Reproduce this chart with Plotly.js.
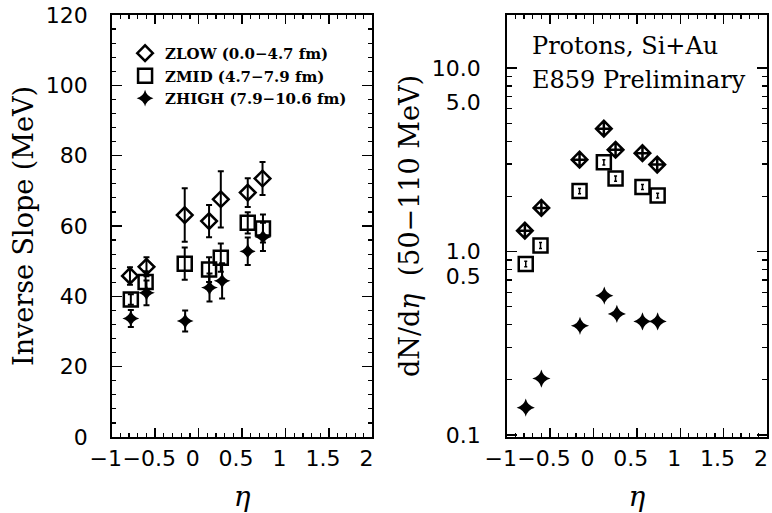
<!DOCTYPE html>
<html>
<head>
<meta charset="utf-8">
<script src="https://cdn.plot.ly/plotly-3.0.1.min.js"></script>
<style>html,body{margin:0;padding:0;background:#fff;}#chart{width:772px;height:513px;}</style>
</head>
<body>
<div id="chart"></div>
<script>
// ---------- Data ----------
// Left panel: inverse slope (MeV) vs eta
const etaLow  = [-0.79, -0.60, -0.16, 0.12, 0.255, 0.565, 0.735];
const slopeLow = [45.8, 48.4, 63.1, 61.4, 67.6, 69.5, 73.5];
const slopeLowErr = [2.5, 2.7, 7.6, 4.6, 8.0, 4.1, 4.7];

const etaMid  = [-0.78, -0.61, -0.16, 0.12, 0.255, 0.565, 0.74];
const slopeMid = [39.1, 44.1, 49.3, 47.6, 51.0, 60.9, 59.3];
const slopeMidErr = [1.5, 3.0, 4.6, 3.5, 4.0, 3.0, 4.0];

const etaHigh = [-0.78, -0.60, -0.155, 0.125, 0.27, 0.565, 0.74];
const slopeHigh = [33.7, 41.0, 33.0, 42.5, 44.4, 52.8, 56.9];
const slopeHighErr = [2.4, 3.5, 3.0, 4.0, 5.0, 3.9, 4.0];

// Right panel: dN/deta (50-110 MeV) vs eta
const dndLow  = [1.30, 1.73, 3.17, 4.68, 3.59, 3.44, 2.98];
const dndMid  = [0.857, 1.08, 2.14, 3.07, 2.50, 2.25, 2.02];
const dndMidErr = [0.03, 0.04, 0.07, 0.10, 0.08, 0.07, 0.06];
const dndHigh = [0.141, 0.203, 0.394, 0.575, 0.457, 0.416, 0.416];

const seriesNames = ['ZLOW (0.0\u22124.7 fm)', 'ZMID (4.7\u22127.9 fm)', 'ZHIGH (7.9\u221210.6 fm)'];

// Tick labels
const xTickVals = [-1, -0.5, 0, 0.5, 1, 1.5, 2];
const xTickText = ['\u22121', '\u22120.5', '0', '0.5', '1', '1.5', '2'];
const yLeftTickVals = [0, 20, 40, 60, 80, 100, 120];
const yRightLabelVals = [0.1, 0.73, 1.0, 6.5, 10];
const yRightLabelText = ['0.1', '0.5', '1.0', '5.0', '10.0'];
const yRightMajor = [0.1, 1, 10];
const yRightMinor = [0.2,0.3,0.4,0.5,0.6,0.7,0.8,0.9,2,3,4,5,6,7,8,9];

// ---------- Styles ----------
const BLACK = '#000';
const errStyle = {type: 'data', visible: true, color: BLACK, thickness: 2, width: 3};

const traces = [
  {x: etaLow, y: slopeLow, xaxis: 'x', yaxis: 'y', mode: 'markers', name: seriesNames[0],
   marker: {symbol: 'diamond-open', size: 12, color: BLACK, line: {width: 2.5, color: BLACK}},
   error_y: Object.assign({array: slopeLowErr}, errStyle)},
  {x: etaMid, y: slopeMid, xaxis: 'x', yaxis: 'y', mode: 'markers', name: seriesNames[1],
   marker: {symbol: 'square-open', size: 14, color: BLACK, line: {width: 2.5, color: BLACK}},
   error_y: Object.assign({array: slopeMidErr}, errStyle)},
  {x: etaHigh, y: slopeHigh, xaxis: 'x', yaxis: 'y', mode: 'markers', name: seriesNames[2],
   marker: {symbol: 'star-diamond', size: 12, color: BLACK, line: {width: 0, color: BLACK}},
   error_y: Object.assign({array: slopeHighErr}, errStyle)},

  {x: etaLow, y: dndLow, xaxis: 'x2', yaxis: 'y2', mode: 'markers', showlegend: false, name: seriesNames[0],
   marker: {symbol: 'diamond-cross-open', size: 12, color: BLACK, line: {width: 2.5, color: BLACK}}},
  {x: etaMid, y: dndMid, xaxis: 'x2', yaxis: 'y2', mode: 'markers', showlegend: false, name: seriesNames[1],
   marker: {symbol: 'square-open', size: 14, color: BLACK, line: {width: 2.5, color: BLACK}},
   error_y: {type: 'data', array: dndMidErr, color: BLACK, thickness: 1.5, width: 1.5}},
  {x: etaHigh, y: dndHigh, xaxis: 'x2', yaxis: 'y2', mode: 'markers', showlegend: false, name: seriesNames[2],
   marker: {symbol: 'star-diamond', size: 13, color: BLACK, line: {width: 0, color: BLACK}}},
  // empty trace to anchor the overlay axis carrying the log tick marks
  {x: [], y: [], xaxis: 'x2', yaxis: 'y3', mode: 'markers', showlegend: false, hoverinfo: 'skip'}
];

const tickFont = {family: 'DejaVu Sans', size: 22, color: BLACK};
const titleFont = {family: 'DejaVu Serif', size: 27, color: BLACK};

function xAxis(domain, anchor) {
  return {
    domain: domain, anchor: anchor, range: [-1, 2], autorange: false,
    showline: true, linecolor: BLACK, linewidth: 1.6, mirror: 'ticks',
    showgrid: false, zeroline: false,
    tickmode: 'array', tickvals: xTickVals, ticktext: xTickText, tickangle: 0,
    ticks: 'inside', ticklen: 9, tickwidth: 1.4, tickcolor: BLACK,
    minor: {dtick: 0.1, tick0: 0, ticks: 'inside', ticklen: 4, tickwidth: 1.2, tickcolor: BLACK, showgrid: false},
    tickfont: tickFont, ticklabelstandoff: 1, ticklabelshift: -6,
    title: {text: '<i>\u03b7</i>', font: {family: 'DejaVu Serif', size: 28, color: BLACK}, standoff: 16},
    automargin: false
  };
}

const layout = {
  width: 772, height: 513,
  margin: {l: 0, r: 0, t: 0, b: 0},
  paper_bgcolor: '#fff', plot_bgcolor: '#fff',
  showlegend: true,
  legend: {
    x: 0.162, y: 0.928, xanchor: 'left', yanchor: 'top',
    bgcolor: 'rgba(0,0,0,0)', borderwidth: 0,
    font: {family: 'DejaVu Serif', size: 15, color: BLACK, weight: 'bold'},
    tracegroupgap: 4, itemwidth: 30
  },
  xaxis: xAxis([0.1447, 0.4825], 'y'),
  xaxis2: xAxis([0.6563, 0.9935], 'y2'),
  yaxis: {
    domain: [0.1481, 0.9708], anchor: 'x', range: [0, 120], autorange: false,
    showline: true, linecolor: BLACK, linewidth: 1.6, mirror: 'ticks',
    showgrid: false, zeroline: false,
    tickmode: 'array', tickvals: yLeftTickVals,
    ticks: 'inside', ticklen: 10, tickwidth: 1.4, tickcolor: BLACK,
    minor: {dtick: 4, tick0: 0, ticks: 'inside', ticklen: 4, tickwidth: 1.2, tickcolor: BLACK, showgrid: false},
    tickfont: tickFont, ticklabelstandoff: 18,
    title: {text: 'Inverse Slope (MeV)', font: titleFont, standoff: 4},
    automargin: false
  },
  yaxis2: {
    domain: [0.1481, 0.9708], anchor: 'x2', type: 'log', range: [-1.011, 1.29], autorange: false,
    showline: true, linecolor: BLACK, linewidth: 1.6, mirror: true,
    showgrid: false, zeroline: false,
    tickmode: 'array', tickvals: yRightLabelVals, ticktext: yRightLabelText,
    ticks: '', tickfont: tickFont, ticklabelstandoff: 20,
    title: {text: 'dN/d<i>\u03b7</i>  (50\u2212110 MeV)', font: titleFont, standoff: 4},
    automargin: false
  },
  yaxis3: {
    overlaying: 'y2', anchor: 'x2', side: 'left', type: 'log', range: [-1.011, 1.29], autorange: false,
    showline: false, mirror: 'ticks', showgrid: false, zeroline: false,
    tickmode: 'array', tickvals: yRightMajor, showticklabels: false,
    ticks: 'inside', ticklen: 10, tickwidth: 1.4, tickcolor: BLACK,
    minor: {tickmode: 'array', tickvals: yRightMinor, ticks: 'inside', ticklen: 5, tickwidth: 1.2, tickcolor: BLACK, showgrid: false},
    automargin: false
  },
  annotations: [
    {text: 'Protons, Si+Au', xref: 'paper', yref: 'paper', x: 0.687, y: 0.9103, xanchor: 'left', yanchor: 'middle',
     showarrow: false, font: {family: 'DejaVu Serif', size: 24, color: BLACK}},
    {text: 'E859 Preliminary', xref: 'paper', yref: 'paper', x: 0.687, y: 0.8441, xanchor: 'left', yanchor: 'middle',
     showarrow: false, font: {family: 'DejaVu Serif', size: 24, color: BLACK}}
  ]
};

Plotly.newPlot('chart', traces, layout, {staticPlot: true, displayModeBar: false});
</script>
</body>
</html>
